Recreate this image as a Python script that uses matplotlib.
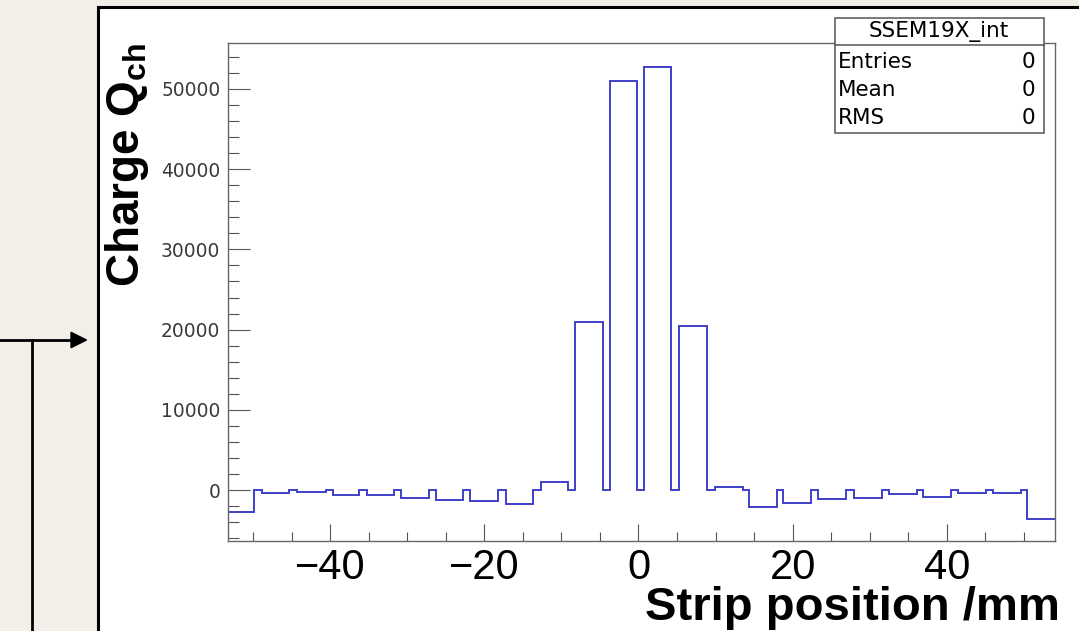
import matplotlib
matplotlib.use('Agg')
import matplotlib.pyplot as plt
from matplotlib.patches import Rectangle, Polygon
from matplotlib.lines import Line2D
from matplotlib.ticker import MultipleLocator

# edges of the zero-charge gaps between strips (mm)
gap_edges = [-49.87, -48.87, -45.29, -44.33, -40.53, -39.66, -36.21, -35.25,
             -31.71, -30.80, -27.21, -26.26, -22.72, -21.85, -18.26, -17.19,
             -13.64, -12.68, -9.14, -8.18, -4.64, -3.70, -0.23, 0.71,
             4.22, 5.29, 8.88, 9.92, 13.51, 14.37, 17.92, 18.78,
             22.37, 23.32, 26.91, 27.95, 31.54, 32.53, 36.08, 36.94,
             40.49, 41.40, 45.03, 45.94, 49.57, 50.35]
# charge per strip, left to right
strip_charge = [-2780, -340, -210, -620, -620, -1035, -1250, -1370, -1710, 960,
                20990, 51040, 52790, 20490, 410, -2080, -1660, -1160, -1000, -540,
                -835, -410, -340, -3650]

x_range = (-53.24, 54.06)
y_range = (-6320, 55770)
x_major = [-40, -20, 0, 20, 40]
x_labels = ['\u221240', '\u221220', '0', '20', '40']
y_major = [0, 10000, 20000, 30000, 40000, 50000]
y_labels = ['0', '10000', '20000', '30000', '40000', '50000']
stat_title = 'SSEM19X_int'
stat_names = ['Entries', 'Mean', 'RMS']
stat_vals = ['0', '0', '0']

plt.rcParams['font.family'] = ['Liberation Sans', 'DejaVu Sans']

W, H = 1079, 631
def fx(x):
    return x / W
def fy(y):
    return 1 - y / H

fig = plt.figure(figsize=(W / 100, H / 100), dpi=100)
fig.patch.set_facecolor('#f2eee8')

# white slide panel with black border
fig.add_artist(Rectangle((fx(98.3), fy(H + 20)), fx(W + 20 - 98.3), (H + 20 - 7.3) / H,
                         transform=fig.transFigure, facecolor='white',
                         edgecolor='black', lw=2.2, zorder=-1))
# arrow on the left
fig.add_artist(Line2D([fx(0), fx(73)], [fy(340), fy(340)], transform=fig.transFigure,
                      color='black', lw=2.0))
fig.add_artist(Line2D([fx(31.5), fx(31.5)], [fy(340), fy(H + 5)], transform=fig.transFigure,
                      color='black', lw=2.0))
fig.add_artist(Polygon([[fx(71), fy(332.3)], [fx(86.5), fy(340)], [fx(71), fy(347.7)]],
                       closed=True, transform=fig.transFigure, color='black'))

ax = fig.add_axes([fx(228), fy(540.7), (1055.3 - 228) / W, (540.7 - 42.7) / H])
ax.set_facecolor('white')

edges = [x_range[0]] + gap_edges + [x_range[1]]
vals = []
for i, q in enumerate(strip_charge):
    vals.append(q)
    if i < len(strip_charge) - 1:
        vals.append(0)
ax.stairs(vals, edges, baseline=None, color='#4040c8', lw=1.4)

ax.set_xlim(*x_range)
ax.set_ylim(*y_range)
ax.set_xticks(x_major)
ax.set_xticklabels(x_labels)
ax.set_yticks(y_major)
ax.set_yticklabels(y_labels)
ax.xaxis.set_minor_locator(MultipleLocator(5))
ax.yaxis.set_minor_locator(MultipleLocator(2000))
ax.tick_params(axis='x', which='major', direction='in', length=12.2, width=0.8,
               color='#555555', labelsize=30, pad=5)
ax.tick_params(axis='x', which='minor', direction='in', length=6.5, width=0.8, color='#555555')
ax.tick_params(axis='y', which='major', direction='in', length=15.8, width=0.8,
               color='#555555', labelsize=13.4, pad=5.5, labelcolor='#3a3a3a')
ax.tick_params(axis='y', which='minor', direction='in', length=7.9, width=0.8, color='#555555')
for lab in ax.get_yticklabels():
    lab.set_family('DejaVu Sans')
for s in ax.spines.values():
    s.set_color('#666666')
    s.set_linewidth(1.0)

# axis titles
fig.text(fx(1060), fy(620), 'Strip position /mm', ha='right', va='baseline',
         fontsize=34, fontweight='bold')
fig.text(fx(103), fy(287), 'Charge Q$_{\\mathregular{ch}}$', rotation=90,
         ha='left', va='bottom', fontsize=33, fontweight='bold')

# stat box
bx0, bx1, by0, by1, bdiv = 834.5, 1043.5, 17.5, 133.3, 45.0
fig.add_artist(Rectangle((fx(bx0), fy(by1)), (bx1 - bx0) / W, (by1 - by0) / H,
                         transform=fig.transFigure, facecolor='white',
                         edgecolor='#555555', lw=1.1, zorder=3))
fig.add_artist(Line2D([fx(bx0), fx(bx1)], [fy(bdiv), fy(bdiv)], transform=fig.transFigure,
                      color='#555555', lw=1.1, zorder=4))
fig.text(fx((bx0 + bx1) / 2), fy(31.5), stat_title, ha='center', va='center',
         fontsize=15.5, family='DejaVu Sans', zorder=5)
for i, (n, v) in enumerate(zip(stat_names, stat_vals)):
    yy = 61.7 + i * 28.3
    fig.text(fx(838), fy(yy), n, ha='left', va='center', fontsize=15.5,
             family='DejaVu Sans', zorder=5)
    fig.text(fx(1035), fy(yy), v, ha='right', va='center', fontsize=15.5,
             family='DejaVu Sans', zorder=5)

plt.savefig('out.png', dpi=100, facecolor=fig.get_facecolor())
